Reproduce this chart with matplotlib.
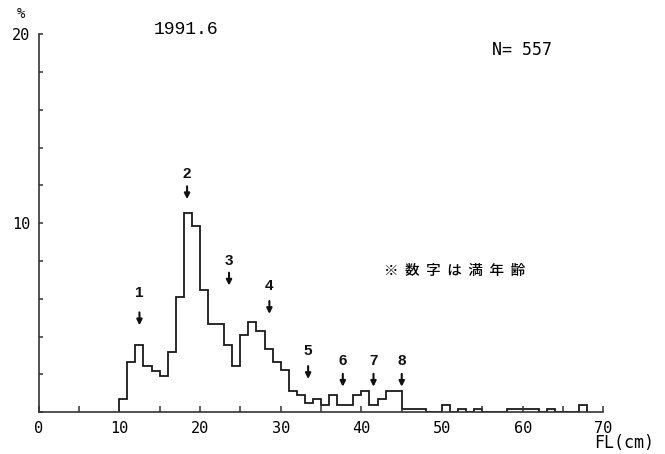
import numpy as np
import matplotlib.pyplot as plt

plt.rcParams['font.family'] = ['DejaVu Sans', 'Noto Sans CJK JP']

# 尾叉長 1cm 階級 (10cm〜68cm) の出現率 %
edges = np.arange(10, 69)
pct = [0.70, 2.66, 3.54, 2.45, 2.19, 1.93, 3.16, 6.08, 10.55, 9.84,
       6.44, 4.66, 4.66, 3.55, 2.47, 4.10, 4.77, 4.30, 3.37, 2.67,
       2.25, 1.10, 0.91, 0.49, 0.70, 0.39, 0.91, 0.40, 0.40, 0.91,
       1.10, 0.40, 0.70, 1.10, 1.10, 0.18, 0.18, 0.18, 0.00, 0.00,
       0.36, 0.00, 0.18, 0.00, 0.18, 0.00, 0.00, 0.00, 0.18, 0.18,
       0.18, 0.18, 0.00, 0.18, 0.00, 0.00, 0.00, 0.36]

# 年齢の矢印 (位置, 数字の高さ, 矢印の先)
ages = ['1', '2', '3', '4', '5', '6', '7', '8']
age_x = [12.5, 18.4, 23.6, 28.6, 33.4, 37.7, 41.5, 45.0]
age_y = [6.3, 12.6, 8.0, 6.65, 3.24, 2.7, 2.7, 2.7]
tip_y = [4.6, 11.27, 6.7, 5.2, 1.76, 1.35, 1.35, 1.35]

fig = plt.figure(figsize=(6.65, 4.54), dpi=100)
ax = fig.add_axes([0.058, 0.092, 0.8495, 0.833])

ax.stairs(pct, edges, baseline=0, color='#1a1a1a', linewidth=1.3)

for lab, x, y, t in zip(ages, age_x, age_y, tip_y):
    ax.text(x, y, lab, ha='center', va='center', fontsize=11,
            fontweight='bold', family='Liberation Sans', color='#111111')
    ax.annotate('', xy=(x, t), xytext=(x, t + 0.68),
                arrowprops=dict(arrowstyle='-|>', color='#111111', lw=1.5,
                                mutation_scale=8, shrinkA=0, shrinkB=0))

ax.set_xlim(0, 70)
ax.set_ylim(0, 20)
for s in ['top', 'right']:
    ax.spines[s].set_visible(False)
for s in ['left', 'bottom']:
    ax.spines[s].set_color('#333333')
    ax.spines[s].set_linewidth(1.2)

ax.set_xticks(np.arange(0, 71, 10))
ax.set_xticks(np.arange(0, 71, 5), minor=True)
ax.set_yticks([10, 20])
ax.set_yticks(np.arange(0, 21, 2), minor=True)
ax.tick_params(axis='both', which='both', direction='in', color='#333333', width=1.1)
ax.tick_params(axis='x', which='both', length=4, pad=6, labelsize=11)
ax.tick_params(axis='y', which='both', length=3, pad=6, labelsize=11)
for t in ax.get_xticklabels() + ax.get_yticklabels():
    t.set_family('DejaVu Sans Mono')

fig.text(0.032, 0.970, '%', ha='center', va='center', fontsize=10, family='DejaVu Sans Mono')
fig.text(0.279, 0.934, '1991.6', ha='center', va='center', fontsize=13, family='Liberation Mono')
fig.text(0.785, 0.890, 'N= 557', ha='center', va='center', fontsize=12, family='DejaVu Sans Mono')
fig.text(0.684, 0.403, '※  数  字  は  満  年  齢', ha='center', va='center', fontsize=10.5,
         fontweight='medium', family=['Noto Sans CJK JP', 'DejaVu Sans'])
fig.text(0.938, 0.024, 'FL(cm)', ha='center', va='center', fontsize=12, family='DejaVu Sans Mono')

fig.savefig('out.png', dpi=100)
